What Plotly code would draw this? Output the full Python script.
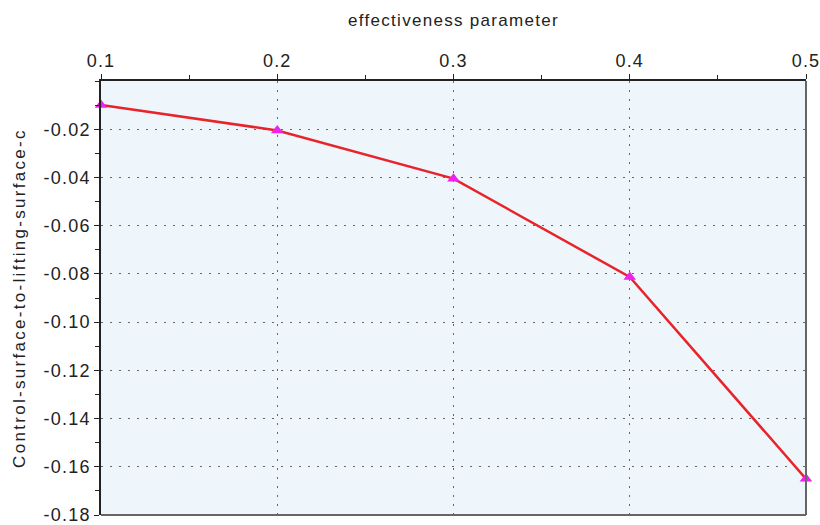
import plotly.graph_objects as go

x_vals = [0.1, 0.2, 0.3, 0.4, 0.5]
y_vals = [-0.010, -0.0205, -0.0405, -0.0813, -0.165]
x_ticks = [0.1, 0.2, 0.3, 0.4, 0.5]
x_tick_text = ["0.1", "0.2", "0.3", "0.4", "0.5"]
y_ticks = [-0.02, -0.04, -0.06, -0.08, -0.10, -0.12, -0.14, -0.16, -0.18]
y_tick_text = ["-0.02", "-0.04", "-0.06", "-0.08", "-0.10", "-0.12", "-0.14", "-0.16", "-0.18"]
x_title = "effectiveness parameter"
y_title = "Control-surface-to-lifting-surface-c"


def spaced(s, px):
    return '<span style="letter-spacing:%spx">%s</span>' % (px, s)


fig = go.Figure()
fig.add_trace(go.Scatter(
    x=x_vals, y=y_vals, mode="lines+markers",
    line=dict(color="#e8232a", width=2.5),
    marker=dict(symbol="triangle-up", size=11, color="#ee22ee"),
    cliponaxis=False, showlegend=False,
))

font = "Liberation Sans, Arial, sans-serif"
fig.update_layout(
    width=820, height=525,
    margin=dict(l=101, r=14, t=81, b=10),
    paper_bgcolor="white",
    plot_bgcolor="#eef6fc",
    font=dict(family=font, size=18, color="#222"),
    shapes=[
        dict(type="line", xref="paper", yref="paper", x0=1, x1=1, y0=0, y1=1,
             line=dict(color="#666", width=2)),
        dict(type="line", xref="paper", yref="paper", x0=0, x1=1, y0=0, y1=0,
             line=dict(color="#666", width=2)),
    ],
)
fig.update_xaxes(
    side="top", range=[0.1, 0.5], automargin=False, ticklabeloverflow="allow",
    tickvals=x_ticks, ticktext=[spaced(t, 1.2) for t in x_tick_text],
    title=dict(text=spaced(x_title, 1.3), font=dict(size=17), standoff=20),
    showline=True, linecolor="#222", linewidth=1.5, mirror=False,
    ticks="outside", ticklen=5, tickcolor="#222",
    minor=dict(dtick=0.05, ticks="outside", ticklen=4, tickcolor="#222", showgrid=False),
    showgrid=True, gridcolor="#666", griddash="2px,7px", gridwidth=1,
    zeroline=False,
)
fig.update_yaxes(
    range=[-0.18, 0], automargin=False, ticklabeloverflow="allow",
    tickvals=y_ticks, ticktext=[spaced(t, 1.2) for t in y_tick_text],
    title=dict(text=spaced(y_title, 2.3), font=dict(size=17), standoff=14),
    showline=True, linecolor="#222", linewidth=1.5, mirror=False,
    ticks="outside", ticklen=5, tickcolor="#222",
    minor=dict(dtick=0.01, tick0=0, ticks="outside", ticklen=4, tickcolor="#222", showgrid=False),
    showgrid=True, gridcolor="#666", griddash="2px,7px", gridwidth=1,
    zeroline=False,
)

fig.write_html("out.html")
